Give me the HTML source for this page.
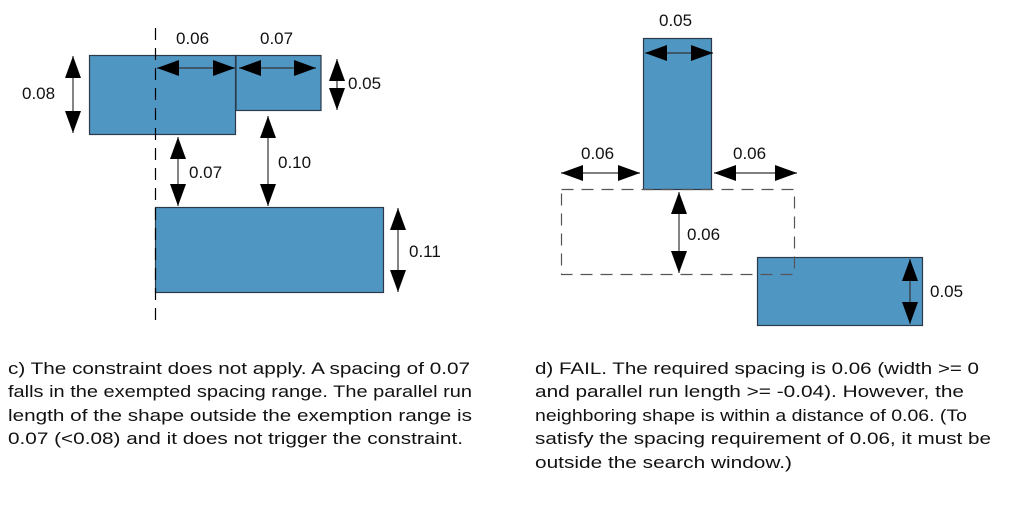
<!DOCTYPE html>
<html><head><meta charset="utf-8"><style>
html,body{margin:0;padding:0;background:#fff;}
svg{display:block;}
text{font-family:"Liberation Sans",Arial,sans-serif;font-size:17px;fill:#111;}
</style></head><body>
<svg width="1013" height="505" viewBox="0 0 1013 505" xmlns="http://www.w3.org/2000/svg">
<defs>
<marker id="a" markerUnits="userSpaceOnUse" markerWidth="24" markerHeight="16" refX="22" refY="8" orient="auto-start-reverse">
<path d="M0,0 L22,8 L0,16 Z" fill="#000"/>
</marker>
</defs>
<g fill="#5096c3" stroke="#2a3a48" stroke-width="1.2">
<rect x="89.5" y="55.5" width="146" height="79"/>
<rect x="236" y="55.5" width="85" height="55"/>
<rect x="155.5" y="207.5" width="228" height="85"/>
<rect x="643.5" y="38.5" width="68" height="151"/>
<rect x="757.5" y="257.5" width="165" height="68"/>
</g>
<line x1="155.5" y1="28" x2="155.5" y2="326" stroke="#000" stroke-width="1.2" stroke-dasharray="12,8"/>
<rect x="561.5" y="189.5" width="233" height="85" fill="none" stroke="#555" stroke-width="1.2" stroke-dasharray="12,8"/>
<g stroke="#333" stroke-width="1.2" marker-start="url(#a)" marker-end="url(#a)">
<line x1="73" y1="56" x2="73" y2="133"/>
<line x1="157" y1="68" x2="235" y2="68"/>
<line x1="239" y1="68" x2="316" y2="68"/>
<line x1="337" y1="59" x2="337" y2="110"/>
<line x1="178" y1="137" x2="178" y2="206"/>
<line x1="268" y1="116" x2="268" y2="206"/>
<line x1="398" y1="208" x2="398" y2="292"/>
<line x1="645" y1="53" x2="713" y2="53"/>
<line x1="561" y1="173" x2="640" y2="173"/>
<line x1="714" y1="173" x2="797" y2="173"/>
<line x1="679" y1="192" x2="679" y2="273"/>
<line x1="910" y1="259" x2="910" y2="324"/>
</g>
<text x="176" y="44">0.06</text>
<text x="260" y="44">0.07</text>
<text x="22" y="99">0.08</text>
<text x="348" y="89">0.05</text>
<text x="189" y="178">0.07</text>
<text x="278" y="168">0.10</text>
<text x="409" y="257">0.11</text>
<text x="659" y="26">0.05</text>
<text x="581" y="159">0.06</text>
<text x="733" y="159">0.06</text>
<text x="687" y="240">0.06</text>
<text x="930" y="297">0.05</text>
<text x="8" y="374" textLength="462" lengthAdjust="spacingAndGlyphs">c) The constraint does not apply. A spacing of 0.07</text>
<text x="8" y="397" textLength="464" lengthAdjust="spacingAndGlyphs">falls in the exempted spacing range. The parallel run</text>
<text x="8" y="421" textLength="464" lengthAdjust="spacingAndGlyphs">length of the shape outside the exemption range is</text>
<text x="8" y="444" textLength="455" lengthAdjust="spacingAndGlyphs">0.07 (&lt;0.08) and it does not trigger the constraint.</text>
<text x="535" y="374" textLength="444" lengthAdjust="spacingAndGlyphs">d) FAIL. The required spacing is 0.06 (width &gt;= 0</text>
<text x="535" y="397" textLength="429" lengthAdjust="spacingAndGlyphs">and parallel run length &gt;= -0.04). However, the</text>
<text x="535" y="421" textLength="432" lengthAdjust="spacingAndGlyphs">neighboring shape is within a distance of 0.06. (To</text>
<text x="535" y="444" textLength="456" lengthAdjust="spacingAndGlyphs">satisfy the spacing requirement of 0.06, it must be</text>
<text x="535" y="468" textLength="257" lengthAdjust="spacingAndGlyphs">outside the search window.)</text>
</svg>
</body></html>
